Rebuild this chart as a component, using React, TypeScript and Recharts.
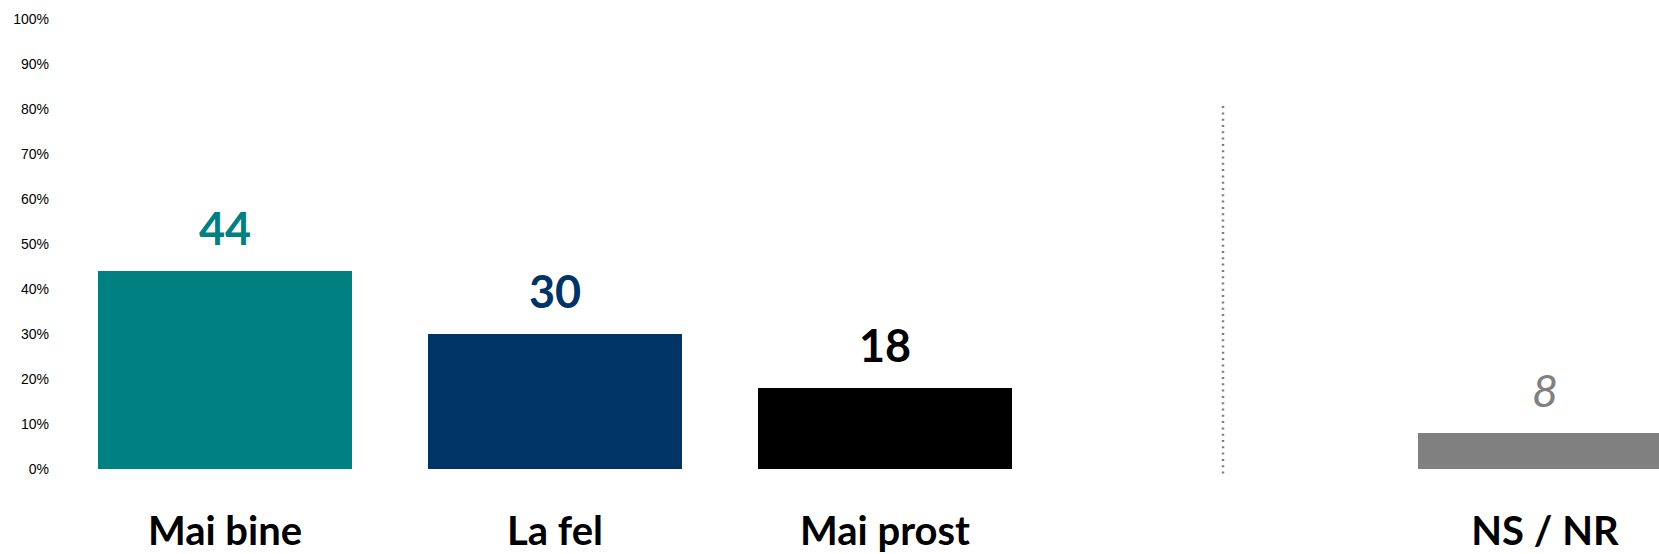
import { BarChart, Bar, XAxis, YAxis, Cell, LabelList, ReferenceLine } from 'recharts';

const categories = ['Mai bine', 'La fel', 'Mai prost', ' ', 'NS / NR'];
const values = [44, 30, 18, null, 8];
const barColors = ['#008080', '#003366', '#000000', '#ffffff', '#808080'];
const labelColors = ['#008080', '#003366', '#000000', '#ffffff', '#808080'];
const italicLabel = [false, false, false, false, true];
const yTicks = [0, 10, 20, 30, 40, 50, 60, 70, 80, 90, 100];
const separatorAt = ' ';
const separatorRange = [-1, 81];

const data = categories.map((name, i) => ({ name, value: values[i] }));

const ValueLabel = (props: any) => {
  const { x, y, width, value } = props;
  const i = categories.indexOf(value);
  if (i < 0 || values[i] == null) return null;
  const italic = italicLabel[i];
  return (
    <text
      x={x + width / 2}
      y={y - 26}
      textAnchor="middle"
      fill={labelColors[i]}
      fontFamily="Lato, sans-serif"
      fontSize={45}
      fontWeight={italic ? 400 : 700}
      fontStyle={italic ? 'italic' : 'normal'}
    >
      {values[i]}
    </text>
  );
};

const DottedSeparator = (props: any) => {
  const { x1, y1, x2, y2 } = props;
  // nudged a little right of the empty slot's centre, as in the original
  return (
    <line
      x1={x1 + 8}
      y1={y1}
      x2={x2 + 8}
      y2={y2}
      stroke="#7f7f7f"
      strokeWidth={2.5}
      strokeDasharray="2 4.3"
    />
  );
};

export default function App() {
  return (
    <div style={{ position: 'absolute', left: 0, top: 0, width: 1659, height: 554, overflow: 'hidden', background: '#fff' }}>
      <BarChart width={1710} height={554} data={data} margin={{ top: 19, right: 0, bottom: 0, left: 0 }}>
        <XAxis
          dataKey="name"
          axisLine={false}
          tickLine={false}
          interval={0}
          height={85}
          tickMargin={42}
          tick={{ fill: '#000', fontSize: 40, fontWeight: 700, fontFamily: 'Lato, sans-serif' }}
        />
        <YAxis
          domain={[0, 100]}
          ticks={yTicks}
          tickFormatter={(v: number) => `${v}%`}
          axisLine={false}
          tickLine={false}
          width={60}
          tickMargin={5}
          tick={{ fill: '#000', fontSize: 14, fontFamily: '"Liberation Sans", Arial, sans-serif' }}
        />
        <ReferenceLine
          segment={[{ x: separatorAt, y: separatorRange[0] }, { x: separatorAt, y: separatorRange[1] }]}
          ifOverflow="visible"
          shape={<DottedSeparator />}
        />
        <Bar dataKey="value" barSize={254} isAnimationActive={false}>
          {data.map((d, i) => (
            <Cell key={d.name + i} fill={barColors[i]} />
          ))}
          <LabelList dataKey="name" content={<ValueLabel />} />
        </Bar>
      </BarChart>
    </div>
  );
}
